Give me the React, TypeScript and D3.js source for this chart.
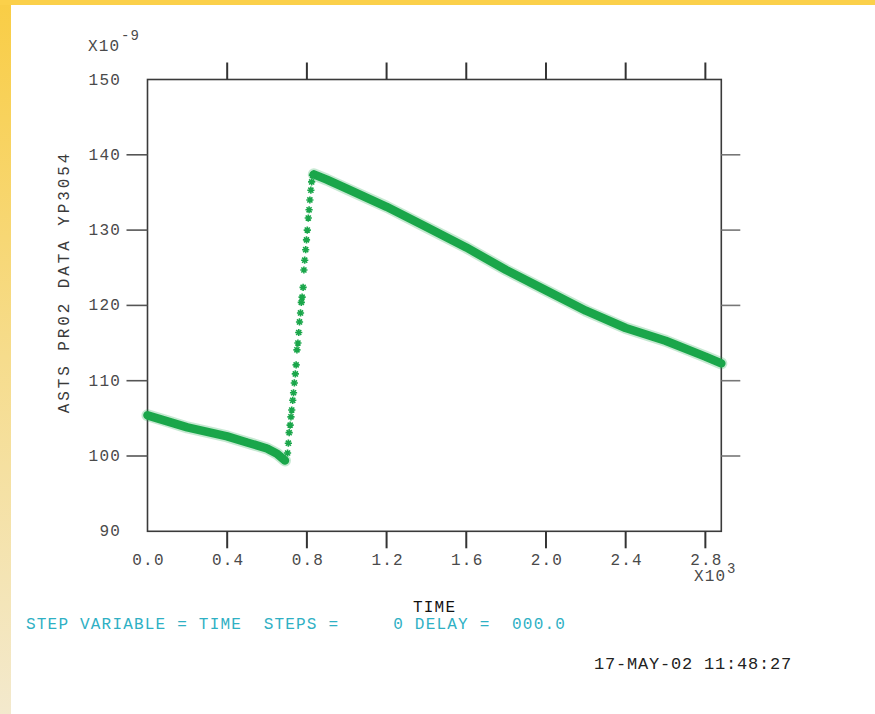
import React from "react";
import * as d3 from "d3";

// ---- data (time in units of 10^3, value in units of 10^-9) ----
const declineTime1 = [0, 0.1, 0.2, 0.3, 0.4, 0.5, 0.6, 0.65, 0.69];
const declineValue1 = [105.4, 104.6, 103.8, 103.2, 102.6, 101.8, 101.0, 100.3, 99.4];

const riseTime = [
  0.703, 0.707, 0.711, 0.716, 0.72, 0.724, 0.729, 0.733, 0.737, 0.742,
  0.746, 0.75, 0.755, 0.759, 0.763, 0.768, 0.772, 0.776, 0.781, 0.785,
  0.789, 0.794, 0.798, 0.802, 0.807, 0.811, 0.815, 0.82, 0.824, 0.828,
];
const riseValue = [
  100.4, 101.7, 103.1, 104.1, 105.2, 106.1, 107.4, 108.4, 109.7, 110.9,
  112.1, 114.1, 115.0, 116.4, 117.8, 119.0, 120.4, 121.1, 122.4, 124.7,
  126.0, 127.4, 128.7, 130.0, 131.6, 132.7, 134.0, 135.3, 136.4, 137.3,
];

const declineTime2 = [0.835, 0.9, 1.0, 1.2, 1.4, 1.6, 1.8, 2.0, 2.2, 2.4, 2.6, 2.8, 2.88];
const declineValue2 = [137.4, 136.7, 135.5, 133.1, 130.4, 127.7, 124.7, 122.0, 119.3, 117.0, 115.3, 113.2, 112.3];

const xTicks = [0.0, 0.4, 0.8, 1.2, 1.6, 2.0, 2.4, 2.8];
const xTickLabels = ["0.0", "0.4", "0.8", "1.2", "1.6", "2.0", "2.4", "2.8"];
const yTicks = [90, 100, 110, 120, 130, 140, 150];
const yTickLabels = ["90", "100", "110", "120", "130", "140", "150"];

const yLabel = "ASTS PR02 DATA YP3054";
const xLabel = "TIME";
const statusLine = "STEP VARIABLE = TIME  STEPS =     0 DELAY =  000.0";
const timestamp = "17-MAY-02 11:48:27";

const W = 875;
const H = 714;
const GREEN = "#1aa64a";
const FONT = "'Liberation Mono', 'DejaVu Sans Mono', monospace";

function starPath(r: number) {
  const pts: string[] = [];
  for (let i = 0; i < 4; i++) {
    const a = (i * Math.PI) / 4;
    const dx = r * Math.cos(a);
    const dy = r * Math.sin(a);
    pts.push(`M${-dx},${-dy}L${dx},${dy}`);
  }
  return pts.join("");
}

export default function App() {
  const x = d3.scaleLinear().domain([0, 2.88]).range([147.5, 721.3]);
  const y = d3.scaleLinear().domain([90, 150]).range([531.3, 79.5]);
  const left = x(0);
  const right = x(2.88);
  const top = y(150);
  const bottom = y(90);

  const line = d3
    .line<[number, number]>()
    .x((d) => x(d[0]))
    .y((d) => y(d[1]));

  const seg1: [number, number][] = declineTime1.map((t, i) => [t, declineValue1[i]]);
  const seg2: [number, number][] = declineTime2.map((t, i) => [t, declineValue2[i]]);
  const rise: [number, number][] = riseTime.map((t, i) => [t, riseValue[i]]);
  const star = starPath(3.6);

  const innerTicksX = xTicks.filter((t) => t > 0);
  const innerTicksY = yTicks.filter((v) => v > 90 && v < 150);

  return (
    <svg
      width={W}
      height={H}
      style={{ position: "absolute", left: 0, top: 0, background: "#ffffff" }}
    >
      <defs>
        <linearGradient id="leftBar" x1="0" y1="0" x2="0" y2="1">
          <stop offset="0" stopColor="#f9cd45" />
          <stop offset="0.5" stopColor="#f6dc8c" />
          <stop offset="1" stopColor="#f3e9cd" />
        </linearGradient>
      </defs>
      <rect x={0} y={0} width={W} height={H} fill="#ffffff" />
      <rect x={0} y={0} width={11} height={H} fill="url(#leftBar)" />
      <rect x={0} y={0} width={W} height={5} fill="#fbd04a" />

      {/* frame */}
      <rect
        x={left}
        y={top}
        width={right - left}
        height={bottom - top}
        fill="none"
        stroke="#3a3a3a"
        strokeWidth={1.6}
      />

      {/* ticks */}
      {innerTicksX.map((t) => (
        <g key={"xt" + t}>
          <line x1={x(t)} x2={x(t)} y1={bottom} y2={bottom + 17} stroke="#333" strokeWidth={2} />
          <line x1={x(t)} x2={x(t)} y1={top} y2={top - 17} stroke="#333" strokeWidth={2} />
        </g>
      ))}
      {innerTicksY.map((v) => (
        <g key={"yt" + v}>
          <line x1={left} x2={left - 21} y1={y(v)} y2={y(v)} stroke="#555" strokeWidth={1.6} />
          <line x1={right} x2={right + 19} y1={y(v)} y2={y(v)} stroke="#777" strokeWidth={1.6} />
        </g>
      ))}

      {/* tick labels */}
      <g fontFamily={FONT} fontSize={16} fill="#4a4a4a" letterSpacing={1.2}>
        {yTicks.map((v, i) => (
          <text key={"yl" + v} x={121} y={y(v) + 5} textAnchor="end">
            {yTickLabels[i]}
          </text>
        ))}
        {xTicks.map((t, i) => (
          <text key={"xl" + t} x={x(t) + 1} y={565} textAnchor="middle">
            {xTickLabels[i]}
          </text>
        ))}
        <text x={88} y={51}>X10</text>
        <text x={121} y={40} fontSize={14}>-9</text>
        <text x={694} y={581}>X10</text>
        <text x={727} y={573} fontSize={14}>3</text>
      </g>

      {/* axis labels */}
      <text
        transform={`translate(69,${282}) rotate(-90)`}
        textAnchor="middle"
        fontFamily={FONT}
        fontSize={16}
        letterSpacing={2.9}
        fill="#3a3a3a"
      >
        {yLabel}
      </text>
      <text x={413} y={612} fontFamily={FONT} fontSize={16} letterSpacing={1.2} fill="#111">
        {xLabel}
      </text>

      {/* data */}
      <g fill="none" strokeLinejoin="round" strokeLinecap="round">
        <path d={line(seg1) || ""} stroke={GREEN} strokeOpacity={0.25} strokeWidth={12} />
        <path d={line(seg2) || ""} stroke={GREEN} strokeOpacity={0.25} strokeWidth={12} />
        <path d={line(seg1) || ""} stroke={GREEN} strokeWidth={8.5} />
        <path d={line(seg2) || ""} stroke={GREEN} strokeWidth={8.5} />
      </g>
      <g stroke={GREEN} strokeWidth={1.6} fill="none">
        {seg1.concat(seg2).map((d, i) => (
          <path key={"sd" + i} d={star} transform={`translate(${x(d[0])},${y(d[1])})`} />
        ))}
        {rise.map((d, i) => (
          <path key={"sr" + i} d={star} transform={`translate(${x(d[0])},${y(d[1])})`} />
        ))}
      </g>

      {/* status text */}
      <text
        x={26}
        y={629}
        fontFamily={FONT}
        fontSize={16}
        letterSpacing={1.2}
        fill="#2fb0c4"
        style={{ whiteSpace: "pre" }}
      >
        {statusLine}
      </text>
      <text
        x={594}
        y={669}
        fontFamily={FONT}
        fontSize={17}
        letterSpacing={0.8}
        fill="#222"
        style={{ whiteSpace: "pre" }}
      >
        {timestamp}
      </text>
    </svg>
  );
}
